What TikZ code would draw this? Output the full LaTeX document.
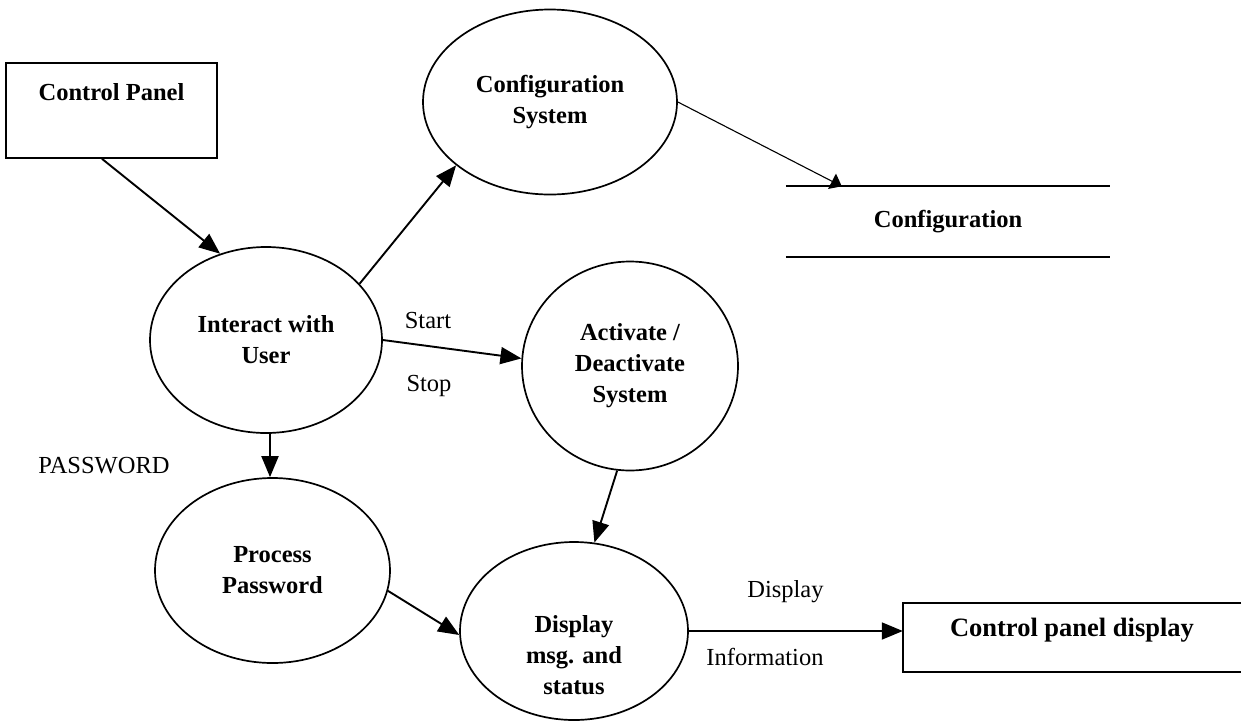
\documentclass[tikz,border=0pt]{standalone}
\usepackage{fontspec}
\setmainfont{Liberation Serif}
\usetikzlibrary{shapes.geometric,arrows.meta}
\begin{document}
\begin{tikzpicture}[x=1pt,y=-1pt,
  bfont/.style={font=\fontsize{24.5}{31}\selectfont\bfseries},
  proc/.style={ellipse, draw, line width=1.7pt, inner sep=0pt, align=center, bfont},
  ent/.style={rectangle, inner sep=0pt, bfont},
  lbl/.style={font=\fontsize{24.5}{30}\selectfont, anchor=base, inner sep=0pt},
  flow/.style={-{Triangle[length=21pt,width=17pt]}, line width=1.9pt},
  thinflow/.style={-{Triangle[length=11pt,width=17pt]}, line width=1.1pt},
  edge/.style={line width=1.7pt}
]
\useasboundingbox (0,0) rectangle (1243,721);

% entities
\node[ent, draw, line width=1.7pt, minimum width=211pt, minimum height=95pt, text depth=38pt] (cp) at (111.5,110.5) {Control Panel};
\node[ent, minimum width=338pt, minimum height=69pt, text depth=20pt, font=\fontsize{26.5}{31}\selectfont\bfseries] (cpd) at (1072,637.5) {Control panel display};
\draw[edge] (cpd.north east) -- (cpd.north west) -- (cpd.south west) -- (cpd.south east);

% data store
\node[ent, minimum width=324pt, minimum height=70pt] (store) at (948,221.5) {Configuration};
\draw[edge] (store.north west) -- (store.north east);
\draw[edge] (store.south west) -- (store.south east);

% processes
\node[proc, minimum width=254pt, minimum height=185pt] (cs) at (550,102) {Configuration\\System};
\node[proc, minimum width=232pt, minimum height=186pt] (iu) at (266,340) {Interact with\\User};
\node[proc, minimum width=216pt, minimum height=209pt] (ad) at (630,366) {Activate /\\Deactivate\\System};
\node[proc, minimum width=235pt, minimum height=185pt] (pp) at (272.5,570.5) {Process\\Password};
\node[proc, minimum width=228pt, minimum height=178pt] (dm) at (574,631) {};
\node[bfont, align=center, inner sep=0pt] (dmtext) at (574,655) {Display\\msg. and\\status};

% flows
\draw[flow] ([xshift=-9.5pt]cp.south) -- (iu.118);
\draw[flow] (iu.31) -- (cs.214);
\draw[thinflow] (cs.east) -- ([xshift=56pt]store.north west);
\draw[flow] (iu.east) -- (ad.176);
\draw[flow] ([xshift=4pt]iu.south) -- ([xshift=4pt]iu.south |- pp.north);
\draw[flow] (ad.263) -- (dm.77);
\draw[flow] (pp.-10.5) -- (dm.182);
\draw[flow] (dm.east) -- (dm.east -| cpd.west);

% labels
\node[lbl] (start) at (428,328) {Start};
\node[lbl] (stop) at (429,391) {Stop};
\node[lbl] (pw) at (104,473) {PASSWORD};
\node[lbl] (disp) at (785.5,597) {Display};
\node[lbl] (info) at (765,665) {Information};
\end{tikzpicture}
\end{document}
